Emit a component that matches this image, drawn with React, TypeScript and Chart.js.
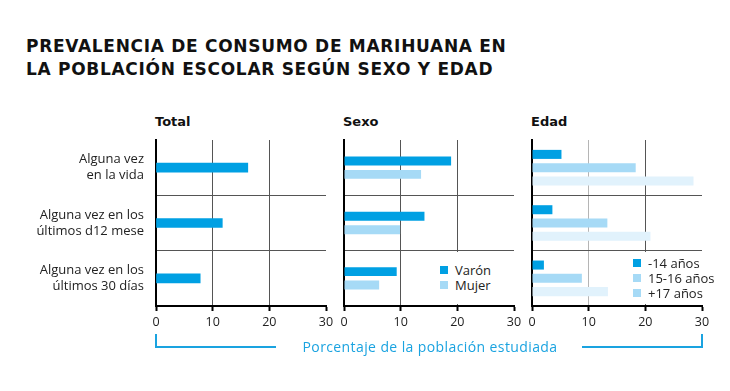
import React, { useEffect, useRef } from "react";
import { Chart, registerables } from "chart.js";

Chart.register(...registerables);

const categories: string[][] = [
  ["Alguna vez", "en la vida"],
  ["Alguna vez en los", "últimos d12 mese"],
  ["Alguna vez en los", "últimos 30 días"],
];
const totalValues = [16.2, 11.7, 7.8];
const varonValues = [18.9, 14.2, 9.3];
const mujerValues = [13.6, 9.9, 6.2];
const edad14Values = [5.2, 3.6, 2.1];
const edad1516Values = [18.3, 13.3, 8.8];
const edad17Values = [28.5, 20.9, 13.4];
const xMin = 0;
const xMax = 30;
const xStep = 10;
const panelTitles = ["Total", "Sexo", "Edad"];
const sexoLabels = ["Varón", "Mujer"];
const edadLabels = ["-14 años", "15-16 años", "+17 años"];
const titleLines = [
  "PREVALENCIA DE CONSUMO DE MARIHUANA EN",
  "LA POBLACIÓN ESCOLAR SEGÚN SEXO Y EDAD",
];
const axisCaption = "Porcentaje de la población estudiada";

const DARK = "#00a0e3";
const MID = "#a6daf6";
const LIGHT = "#e1f2fc";
const GRID = "#555555";
const FONT = "'Open Sans', sans-serif";
const TEXT = "#222222";

type PanelProps = {
  left: number;
  top: number;
  width: number;
  height: number;
  yAxisWidth: number;
  showLabels: boolean;
  datasets: any[];
  gridColors: string[];
};

function Panel(props: PanelProps) {
  const ref = useRef<HTMLCanvasElement | null>(null);
  useEffect(() => {
    const canvas = ref.current!;
    const chart = new Chart(canvas, {
      type: "bar",
      data: {
        labels: categories as any,
        datasets: props.datasets,
      },
      options: {
        indexAxis: "y",
        responsive: false,
        animation: false,
        layout: { padding: { top: 10, right: 14, left: 0, bottom: 0 } },
        plugins: { legend: { display: false }, tooltip: { enabled: false } },
        scales: {
          x: {
            type: "linear",
            min: xMin,
            max: xMax,
            ticks: {
              stepSize: xStep,
              color: TEXT,
              padding: 4,
              font: { family: FONT, size: 12.5 },
            },
            grid: {
              color: (ctx: any) =>
                ctx.index > 0 && ctx.index < 3 ? props.gridColors[ctx.index - 1] : "rgba(0,0,0,0)",
              lineWidth: 1,
              tickColor: "#000",
              tickWidth: 2,
              tickLength: 5,
            },
            border: { color: "#000", width: 2 },
            afterFit: (scale: any) => {
              scale.height = 34;
              scale.paddingLeft = 0;
              scale.paddingRight = 0;
            },
          },
          y: {
            type: "category",
            offset: true,
            ticks: {
              display: props.showLabels,
              color: TEXT,
              padding: 12,
              font: { family: FONT, size: 13, lineHeight: 1.25 },
            },
            grid: {
              offset: true,
              color: (ctx: any) => (ctx.index === 0 ? "rgba(0,0,0,0)" : GRID),
              lineWidth: 1,
              drawTicks: false,
            },
            border: { color: "#000", width: 2 },
            afterFit: (scale: any) => {
              scale.width = props.yAxisWidth;
              scale.paddingTop = 0;
              scale.paddingBottom = 0;
            },
          },
        },
      } as any,
    });
    return () => chart.destroy();
  }, []);
  return (
    <canvas
      ref={ref}
      width={props.width}
      height={props.height}
      style={{
        position: "absolute",
        left: props.left,
        top: props.top,
        width: props.width,
        height: props.height,
      }}
    />
  );
}

function Legend(props: { left: number; top: number; width: number; height: number; items: string[]; colors: string[]; rowTop: number; rowGap: number; }) {
  return (
    <div
      style={{
        position: "absolute",
        left: props.left,
        top: props.top,
        width: props.width,
        height: props.height,
        background: "#fff",
      }}
    >
      {props.items.map((label, i) => (
        <div
          key={label}
          style={{
            position: "absolute",
            left: 4,
            top: props.rowTop + i * props.rowGap,
            height: 16,
            display: "flex",
            alignItems: "center",
            whiteSpace: "nowrap",
            fontFamily: FONT,
            fontSize: 13,
            color: TEXT,
          }}
        >
          <span
            style={{
              display: "inline-block",
              width: 8,
              height: 8,
              background: props.colors[i],
              marginRight: 7,
            }}
          />
          {label}
        </div>
      ))}
    </div>
  );
}

export default function App() {
  const common = { borderWidth: 0 };
  return (
    <div
      style={{
        position: "absolute",
        left: 0,
        top: 0,
        width: 730,
        height: 391,
        background: "#fff",
        overflow: "hidden",
      }}
    >
      <div
        style={{
          position: "absolute",
          left: 26,
          top: 35,
          fontFamily: "'DejaVu Sans', sans-serif",
          fontWeight: 700,
          fontSize: 17,
          letterSpacing: "0.7px",
          lineHeight: "23px",
          color: "#111",
          whiteSpace: "nowrap",
        }}
      >
        {titleLines.map((l) => (
          <div key={l}>{l}</div>
        ))}
      </div>
      {panelTitles.map((t, i) => (
        <div
          key={t}
          style={{
            position: "absolute",
            left: [155, 343, 531][i],
            top: 114,
            fontFamily: "'DejaVu Sans', sans-serif",
            fontWeight: 700,
            fontSize: 13,
            color: "#111",
          }}
        >
          {t}
        </div>
      ))}
      <Panel
        left={0}
        top={130}
        width={340}
        height={210}
        yAxisWidth={156}
        showLabels={true}
        gridColors={[GRID, GRID]}
        datasets={[
          { ...common, data: totalValues, backgroundColor: DARK, barThickness: 9 },
        ]}
      />
      <Panel
        left={334}
        top={130}
        width={194}
        height={210}
        yAxisWidth={10}
        showLabels={false}
        gridColors={[GRID, GRID]}
        datasets={[
          { ...common, label: sexoLabels[0], data: varonValues, backgroundColor: DARK, categoryPercentage: 0.484, barPercentage: 0.67 },
          { ...common, label: sexoLabels[1], data: mujerValues, backgroundColor: MID, categoryPercentage: 0.484, barPercentage: 0.67 },
        ]}
      />
      <Panel
        left={522}
        top={130}
        width={194}
        height={210}
        yAxisWidth={10}
        showLabels={false}
        gridColors={["#b5b5b5", GRID]}
        datasets={[
          { ...common, label: edadLabels[0], data: edad14Values, backgroundColor: DARK, categoryPercentage: 0.72, barPercentage: 0.68 },
          { ...common, label: edadLabels[1], data: edad1516Values, backgroundColor: MID, categoryPercentage: 0.72, barPercentage: 0.68 },
          { ...common, label: edadLabels[2], data: edad17Values, backgroundColor: LIGHT, categoryPercentage: 0.72, barPercentage: 0.68 },
        ]}
      />
      <Legend
        left={436}
        top={252}
        width={77}
        height={52}
        items={sexoLabels}
        colors={[DARK, MID]}
        rowTop={10}
        rowGap={15}
      />
      <Legend
        left={629}
        top={252}
        width={72}
        height={52}
        items={edadLabels}
        colors={[DARK, MID, MID]}
        rowTop={3}
        rowGap={15}
      />
      <div
        style={{
          position: "absolute",
          left: 155,
          top: 334,
          width: 119,
          height: 12,
          borderLeft: "2px solid #1aa3e0",
          borderBottom: "2px solid #1aa3e0",
        }}
      />
      <div
        style={{
          position: "absolute",
          left: 582,
          top: 334,
          width: 119,
          height: 12,
          borderRight: "2px solid #1aa3e0",
          borderBottom: "2px solid #1aa3e0",
        }}
      />
      <div
        style={{
          position: "absolute",
          left: 280,
          width: 300,
          top: 337,
          textAlign: "center",
          fontFamily: FONT,
          fontSize: 14,
          letterSpacing: "0.4px",
          color: "#1aa3e0",
          whiteSpace: "nowrap",
        }}
      >
        {axisCaption}
      </div>
    </div>
  );
}
